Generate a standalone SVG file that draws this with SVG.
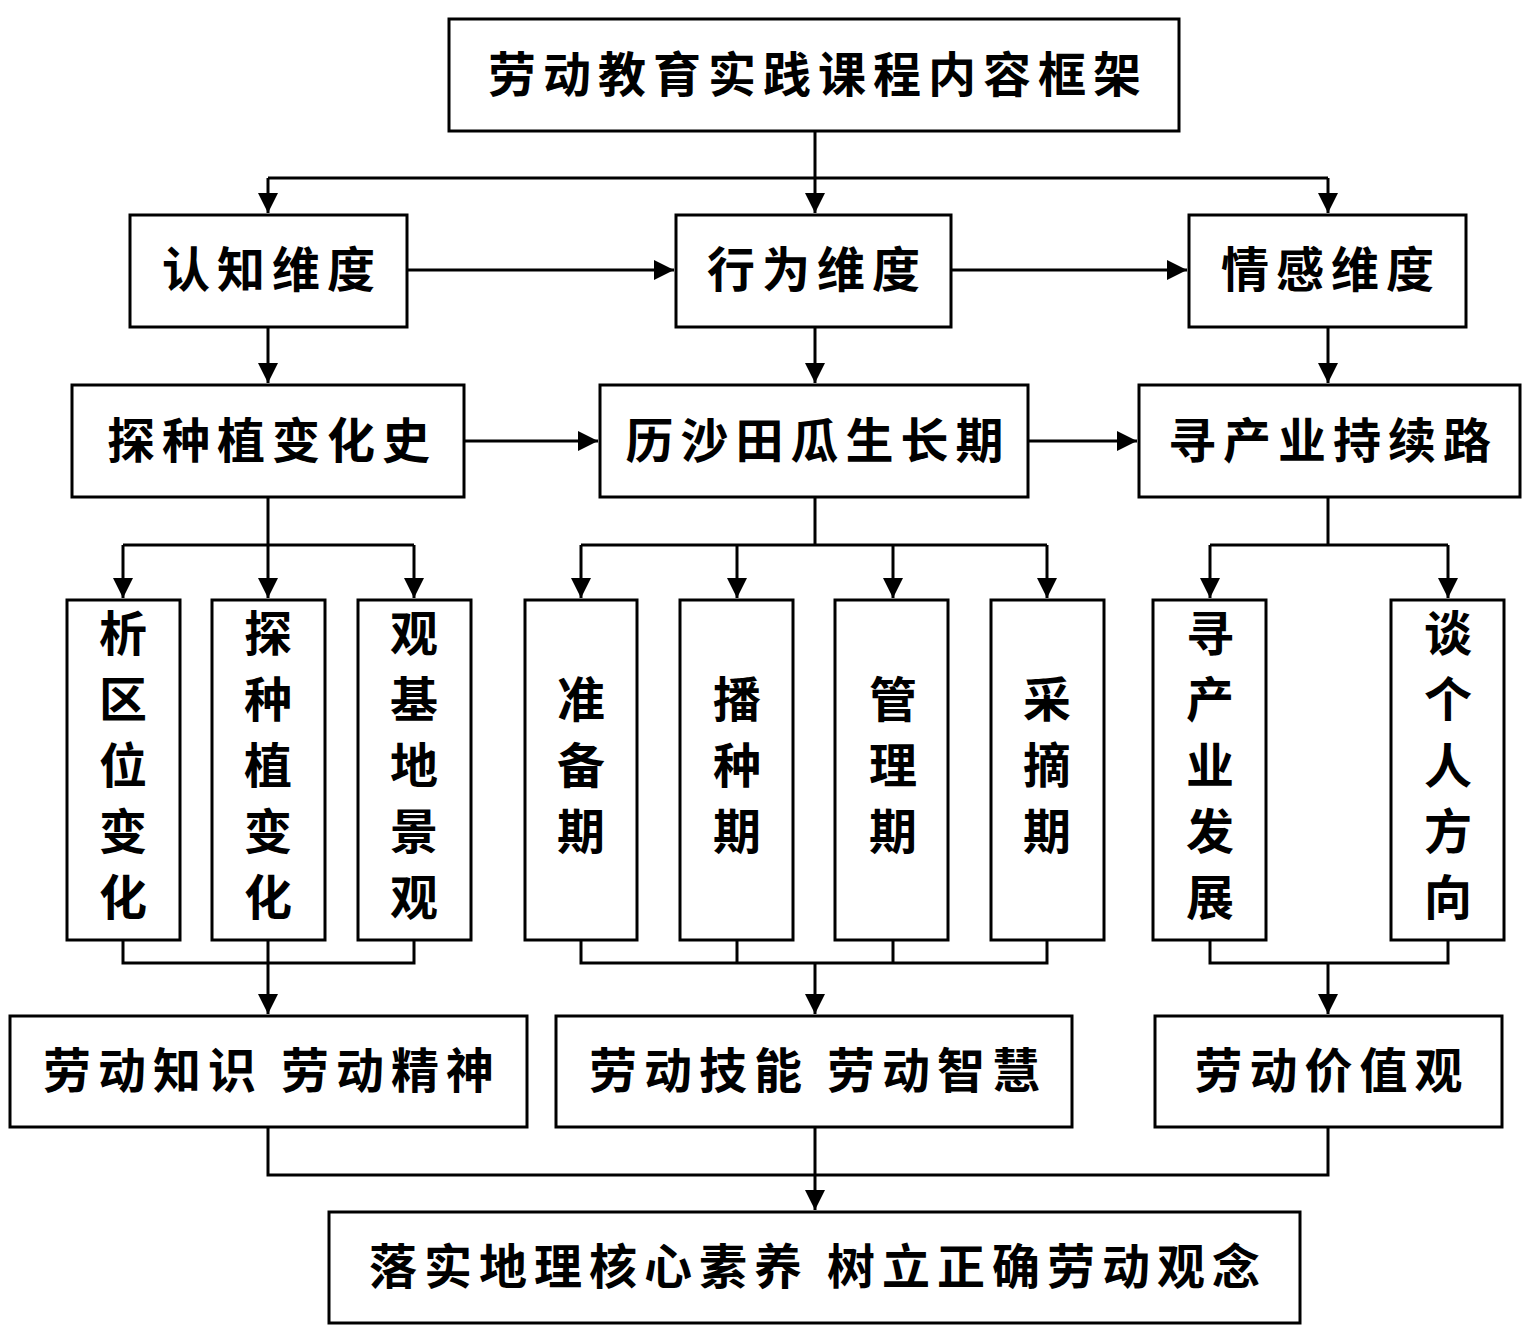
<svg xmlns="http://www.w3.org/2000/svg" width="1530" height="1340" viewBox="0 0 1530 1340">
<style>
.b{fill:#fff;stroke:#000;stroke-width:3}
.t{font-family:"Noto Sans CJK SC","Noto Sans",sans-serif;font-weight:bold;font-size:48px;fill:#000;text-anchor:middle;letter-spacing:7px}
.v{font-family:"Noto Sans CJK SC","Noto Sans",sans-serif;font-weight:bold;font-size:48px;fill:#000;text-anchor:middle}
.c{fill:none;stroke:#000;stroke-width:3}
</style>
<defs>
<marker id="a" markerUnits="userSpaceOnUse" markerWidth="22" markerHeight="20" refX="20" refY="10" orient="auto"><path d="M0,0 L20,10 L0,20 Z" fill="#000"/></marker>
</defs>
<rect width="1530" height="1340" fill="#fff"/>
<g id="connectors">
<path class="c" d="M815,131 V178 M268,178 H1328"/>
<path class="c" d="M268,178 V213" marker-end="url(#a)"/>
<path class="c" d="M815,178 V213" marker-end="url(#a)"/>
<path class="c" d="M1328,178 V213" marker-end="url(#a)"/>
<path class="c" d="M407,270 H674" marker-end="url(#a)"/>
<path class="c" d="M951,270 H1187" marker-end="url(#a)"/>
<path class="c" d="M268,327 V383" marker-end="url(#a)"/>
<path class="c" d="M815,327 V383" marker-end="url(#a)"/>
<path class="c" d="M1328,327 V383" marker-end="url(#a)"/>
<path class="c" d="M464,441 H598" marker-end="url(#a)"/>
<path class="c" d="M1028,441 H1137" marker-end="url(#a)"/>
<path class="c" d="M268,497 V545 M123,545 H414 M815,497 V545 M581,545 H1047 M1328,497 V545 M1210,545 H1448"/>
<path class="c" d="M123,545 V598" marker-end="url(#a)"/>
<path class="c" d="M268,545 V598" marker-end="url(#a)"/>
<path class="c" d="M414,545 V598" marker-end="url(#a)"/>
<path class="c" d="M581,545 V598" marker-end="url(#a)"/>
<path class="c" d="M737,545 V598" marker-end="url(#a)"/>
<path class="c" d="M893,545 V598" marker-end="url(#a)"/>
<path class="c" d="M1047,545 V598" marker-end="url(#a)"/>
<path class="c" d="M1210,545 V598" marker-end="url(#a)"/>
<path class="c" d="M1448,545 V598" marker-end="url(#a)"/>
<path class="c" d="M123,940 V963 H414 V940 M268,940 V963 M581,940 V963 H1047 V940 M737,940 V963 M893,940 V963 M1210,940 V963 H1448 V940"/>
<path class="c" d="M268,963 V1014" marker-end="url(#a)"/>
<path class="c" d="M815,963 V1014" marker-end="url(#a)"/>
<path class="c" d="M1328,963 V1014" marker-end="url(#a)"/>
<path class="c" d="M268,1127 V1175 H1328 V1127 M815,1127 V1175"/>
<path class="c" d="M815,1175 V1210" marker-end="url(#a)"/>
</g>
<g id="n-title"><rect class="b" x="449" y="19" width="730" height="112"/><text class="t" x="818" y="92">劳动教育实践课程内容框架</text></g>
<g id="n-cog"><rect class="b" x="130" y="215" width="277" height="112"/><text class="t" x="272" y="287">认知维度</text></g>
<g id="n-beh"><rect class="b" x="676" y="215" width="275" height="112"/><text class="t" x="817" y="287">行为维度</text></g>
<g id="n-emo"><rect class="b" x="1189" y="215" width="277" height="112"/><text class="t" x="1331" y="287">情感维度</text></g>
<g id="n-hist"><rect class="b" x="72" y="385" width="392" height="112"/><text class="t" x="272" y="458">探种植变化史</text></g>
<g id="n-grow"><rect class="b" x="600" y="385" width="428" height="112"/><text class="t" x="818" y="458">历沙田瓜生长期</text></g>
<g id="n-ind"><rect class="b" x="1139" y="385" width="381" height="112"/><text class="t" x="1333" y="458">寻产业持续路</text></g>
<g id="n-v1"><rect class="b" x="67" y="600" width="113" height="340"/><text class="v" x="123"><tspan x="123" y="651">析</tspan><tspan x="123" y="717">区</tspan><tspan x="123" y="783">位</tspan><tspan x="123" y="849">变</tspan><tspan x="123" y="915">化</tspan></text></g>
<g id="n-v2"><rect class="b" x="212" y="600" width="113" height="340"/><text class="v" x="268"><tspan x="268" y="651">探</tspan><tspan x="268" y="717">种</tspan><tspan x="268" y="783">植</tspan><tspan x="268" y="849">变</tspan><tspan x="268" y="915">化</tspan></text></g>
<g id="n-v3"><rect class="b" x="358" y="600" width="113" height="340"/><text class="v" x="414"><tspan x="414" y="651">观</tspan><tspan x="414" y="717">基</tspan><tspan x="414" y="783">地</tspan><tspan x="414" y="849">景</tspan><tspan x="414" y="915">观</tspan></text></g>
<g id="n-v4"><rect class="b" x="525" y="600" width="112" height="340"/><text class="v" x="581"><tspan x="581" y="717">准</tspan><tspan x="581" y="783">备</tspan><tspan x="581" y="849">期</tspan></text></g>
<g id="n-v5"><rect class="b" x="680" y="600" width="113" height="340"/><text class="v" x="737"><tspan x="737" y="717">播</tspan><tspan x="737" y="783">种</tspan><tspan x="737" y="849">期</tspan></text></g>
<g id="n-v6"><rect class="b" x="835" y="600" width="113" height="340"/><text class="v" x="893"><tspan x="893" y="717">管</tspan><tspan x="893" y="783">理</tspan><tspan x="893" y="849">期</tspan></text></g>
<g id="n-v7"><rect class="b" x="991" y="600" width="113" height="340"/><text class="v" x="1047"><tspan x="1047" y="717">采</tspan><tspan x="1047" y="783">摘</tspan><tspan x="1047" y="849">期</tspan></text></g>
<g id="n-v8"><rect class="b" x="1153" y="600" width="113" height="340"/><text class="v" x="1210"><tspan x="1210" y="651">寻</tspan><tspan x="1210" y="717">产</tspan><tspan x="1210" y="783">业</tspan><tspan x="1210" y="849">发</tspan><tspan x="1210" y="915">展</tspan></text></g>
<g id="n-v9"><rect class="b" x="1391" y="600" width="113" height="340"/><text class="v" x="1448"><tspan x="1448" y="651">谈</tspan><tspan x="1448" y="717">个</tspan><tspan x="1448" y="783">人</tspan><tspan x="1448" y="849">方</tspan><tspan x="1448" y="915">向</tspan></text></g>
<g id="n-r1"><rect class="b" x="10" y="1016" width="517" height="111"/><text class="t" x="272" y="1088">劳动知识 劳动精神</text></g>
<g id="n-r2"><rect class="b" x="556" y="1016" width="516" height="111"/><text class="t" x="818" y="1088">劳动技能 劳动智慧</text></g>
<g id="n-r3"><rect class="b" x="1155" y="1016" width="347" height="111"/><text class="t" x="1332" y="1088">劳动价值观</text></g>
<g id="n-final"><rect class="b" x="329" y="1212" width="971" height="111"/><text class="t" x="818" y="1284">落实地理核心素养 树立正确劳动观念</text></g>
</svg>
